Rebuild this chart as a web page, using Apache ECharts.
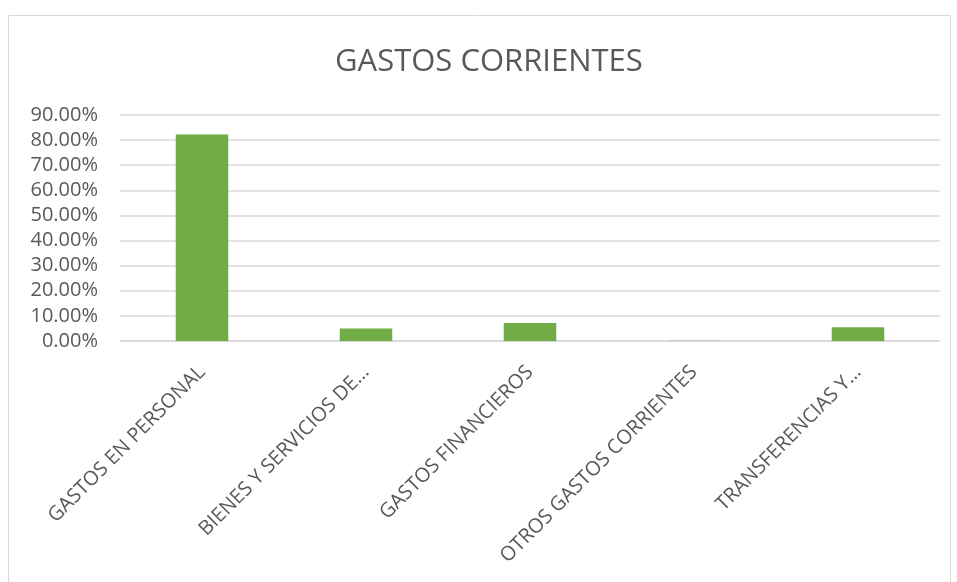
<!DOCTYPE html>
<html>
<head>
    <meta charset="utf-8" />
    <title>Gastos corrientes</title>
    <style>
        html, body { margin: 0; padding: 0; background: #fff; }
        #barchart { width: 957px; height: 582px; }
    </style>
</head>
<body>
    <div id="barchart"></div>
    <script src="https://cdn.jsdelivr.net/npm/echarts@6/dist/echarts.min.js"></script>
    <script>
        // datos
        var categorias = ['GASTOS EN PERSONAL', 'BIENES Y SERVICIOS DE…', 'GASTOS FINANCIEROS', 'OTROS GASTOS CORRIENTES', 'TRANSFERENCIAS Y…'];
        var porcentajes = [0.822, 0.050, 0.072, 0.001, 0.055];
        var titulo = 'GASTOS CORRIENTES';

        var chart = echarts.init(document.getElementById('barchart'));
        var option = {
            backgroundColor: '#fff',
            animation: false,
            textStyle: { fontFamily: 'Open Sans' },
            title: {
                text: titulo,
                left: 330,
                top: 42,
                textStyle: {
                    color: '#595959',
                    fontSize: 31,
                    fontWeight: 'normal',
                    fontFamily: 'Open Sans'
                }
            },
            graphic: [{
                type: 'rect',
                shape: { x: 8.5, y: 15.5, width: 942, height: 580 },
                style: { fill: 'none', stroke: '#d9d9d9', lineWidth: 1 },
                silent: true
            }],
            grid: {
                left: 120,
                right: 17,
                top: 115,
                bottom: 241,
                containLabel: false
            },
            xAxis: [{
                type: 'category',
                data: categorias,
                axisLine: { show: true, lineStyle: { color: '#d9d9d9', width: 1.5 } },
                axisTick: { show: false },
                axisLabel: {
                    interval: 0,
                    rotate: 45,
                    margin: 28,
                    color: '#595959',
                    fontSize: 20,
                    fontFamily: 'Open Sans'
                }
            }],
            yAxis: [{
                type: 'value',
                min: 0,
                max: 0.9,
                interval: 0.1,
                axisLine: { show: false },
                axisTick: { show: false },
                splitLine: { lineStyle: { color: '#d9d9d9', width: 1.5 } },
                axisLabel: {
                    margin: 22,
                    color: '#595959',
                    fontSize: 20,
                    fontFamily: 'Open Sans',
                    formatter: function (v) { return (v * 100).toFixed(2) + '%'; }
                }
            }],
            series: [{
                name: titulo,
                type: 'bar',
                data: porcentajes,
                barWidth: '32%',
                itemStyle: { color: '#70AD47' }
            }]
        };
        chart.setOption(option);
    </script>
</body>
</html>
